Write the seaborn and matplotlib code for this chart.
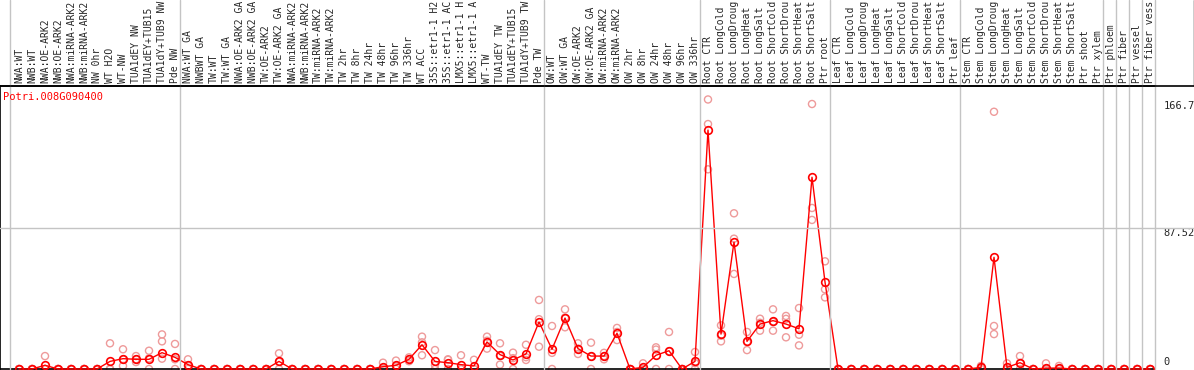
import numpy as np
import pandas as pd
import matplotlib
matplotlib.use("Agg")
import matplotlib.pyplot as plt
import matplotlib.transforms as mtransforms
from matplotlib.lines import Line2D
import seaborn as sns

gene = "Potri.008G090400"

# sample names as they show in the header (long ones are cut there)
labels = [
    "NWA:WT", "NWB:WT", "NWA:OE-ARK2", "NWB:OE-ARK2", "NWA:miRNA-ARK2",
    "NWB:miRNA-ARK2", "NW 0hr", "WT H2O", "WT-NW", "TUA1dEY NW",
    "TUA1dEY+TUB15", "TUA1dY+TUB9 NW", "Pde NW",
    "NWA:WT GA", "NWBWT GA", "TW:WT", "TW:WT GA", "NWA:OE-ARK2 GA",
    "NWB:OE-ARK2 GA", "TW:OE-ARK2", "TW:OE-ARK2 GA", "NWA:miRNA-ARK2",
    "NWB:miRNA-ARK2", "TW:miRNA-ARK2", "TW:miRNA-ARK2", "TW 2hr",
    "TW 8hr", "TW 24hr", "TW 48hr", "TW 96hr", "TW 336hr", "WT ACC",
    "35S::etr1-1 H2", "35S::etr1-1 AC", "LMX5::etr1-1 H",
    "LMX5::etr1-1 A", "WT-TW", "TUA1dEY TW", "TUA1dEY+TUB15",
    "TUA1dY+TUB9 TW", "Pde TW",
    "OW:WT", "OW:WT GA", "OW:OE-ARK2", "OW:OE-ARK2 GA", "OW:miRNA-ARK2",
    "OW:miRNA-ARK2", "OW 2hr", "OW 8hr", "OW 24hr", "OW 48hr", "OW 96hr",
    "OW 336hr",
    "Root CTR", "Root LongCold", "Root LongDroug", "Root LongHeat",
    "Root LongSalt", "Root ShortCold", "Root ShortDrou", "Root ShortHeat",
    "Root ShortSalt", "Ptr root",
    "Leaf CTR", "Leaf LongCold", "Leaf LongDroug", "Leaf LongHeat",
    "Leaf LongSalt", "Leaf ShortCold", "Leaf ShortDrou", "Leaf ShortHeat",
    "Leaf ShortSalt", "Ptr leaf",
    "Stem CTR", "Stem LongCold", "Stem LongDroug", "Stem LongHeat",
    "Stem LongSalt", "Stem ShortCold", "Stem ShortDrou", "Stem ShortHeat",
    "Stem ShortSalt", "Ptr shoot", "Ptr xylem",
    "Ptr phloem", "Ptr fiber", "Ptr vessel", "Ptr fiber vess",
]
group_sizes = [13, 28, 12, 10, 10, 11, 1, 1, 1, 1]

means = [
    0, 0, 2.3, 0, 0, 0, 0, 4.7, 6.4, 6.0, 6.0, 10.1, 7.2,
    2.7, 0, 0, 0, 0, 0, 0, 4.7, 0, 0, 0, 0, 0, 0, 0, 1.4, 2.3, 6.0, 15.0,
    4.7, 3.9, 2.7, 1.9, 16.7, 8.9, 5.6, 9.3, 29.1,
    12.2, 31.5, 12.6, 8.0, 8.0, 22.1, 0, 1.0, 8.5, 11.3, 0, 4.7,
    147.8, 21.6, 78.5, 17.1, 27.8, 29.9, 27.8, 24.9, 118.6, 53.8,
    0, 0, 0, 0, 0, 0, 0, 0, 0, 0,
    0, 1.0, 69.1, 1.0, 3.9, 0, 0.5, 0.6, 0, 0, 0,
    0, 0, 0, 0,
]

rep_a = [
    0, 0, 8.0, 0, 0, 0, 0, 15.9, 12.2, 8.0, 11.3, 21.4, 15.5,
    6.0, 0, 0, 0, 0, 0, 0, 9.7, 0, 0, 0, 0, 0, 0, 0, 3.9, 5.2, 7.2, 20.0,
    11.7, 6.0, 8.5, 5.7, 20.0, 15.9, 10.1, 15.0, 42.7,
    26.6, 36.9, 15.9, 16.3, 10.0, 25.4, 0, 3.5, 13.4, 22.9, 0, 10.5,
    166.7, 27.0, 96.3, 22.9, 31.1, 36.9, 32.8, 37.7, 163.9, 66.6,
    0, 0, 0, 0, 0, 0, 0, 0, 0, 0,
    0, 1.9, 159.1, 3.5, 8.0, 0, 3.5, 1.9, 0, 0, 0,
    0, 0, 0, 0,
]
rep_b = [
    0, 0, 0, 0, 0, 0, 0, 0, 6.0, 6.0, 6.6, 17.1, 6.0,
    2.0, 0, 0, 0, 0, 0, 0, 4.4, 0, 0, 0, 0, 0, 0, 0, 0.3, 1.7, 6.0, 16.5,
    2.4, 5.7, 0, 0, 17.5, 8.1, 6.7, 7.3, 30.8,
    10.0, 31.8, 12.6, 7.7, 8.0, 22.9, 0, 0, 12.0, 11.0, 0, 3.6,
    151.5, 20.6, 80.6, 16.7, 28.6, 29.1, 31.0, 21.2, 99.6, 49.3,
    0, 0, 0, 0, 0, 0, 0, 0, 0, 0,
    0, 1.1, 26.6, 0, 3.7, 0, 0, 0, 0, 0, 0,
    0, 0, 0, 0,
]
rep_c = [
    0, 0, 0, 0, 0, 0, 0, 0, 1.9, 4.3, 0, 6.4, 0,
    0, 0, 0, 0, 0, 0, 0, 0, 0, 0, 0, 0, 0, 0, 0, 0, 0, 4.8, 8.5,
    0, 0, 0, 0, 12.6, 2.7, 0, 5.6, 13.8,
    0, 25.8, 9.3, 0, 6.0, 17.9, 0, 0, 0, 0, 0, 0,
    123.5, 17.1, 58.8, 11.7, 23.7, 23.7, 19.6, 14.6, 92.2, 44.3,
    0, 0, 0, 0, 0, 0, 0, 0, 0, 0,
    0, 0, 21.6, 0, 0, 0, 0, 0, 0, 0, 0,
    0, 0, 0, 0,
]

n = len(labels)
df = pd.DataFrame({"pos": np.arange(n), "sample": labels, "mean": means})
reps = pd.DataFrame({"pos": np.arange(n), "a": rep_a, "b": rep_b, "c": rep_c})
reps = reps.melt(id_vars="pos", value_name="value")

sns.set_style("white")
plt.rcParams["font.family"] = ["DejaVu Sans Mono"]
plt.rcParams["font.size"] = 7.5

W, H = 1194, 370
fig = plt.figure(figsize=(W / 100, H / 100), dpi=100)
# plot box in pixels: x 0..1155, y 86..369 (from top)
ax = fig.add_axes([0, 1 / H, 1155 / W, 283 / H])

grey = "#c4c4c4"
top_val = max(rep_a + rep_b + rep_c)
ymax = top_val * 1.05

# replicates
sns.scatterplot(data=reps, x="pos", y="value", ax=ax, s=26, zorder=2,
                legend=False)
coll = ax.collections[-1]
coll.set_facecolor("none")
coll.set_edgecolor("#ee9a9a")
coll.set_linewidth(1.0)
coll.set_clip_on(False)

# mean line
sns.lineplot(data=df, x="pos", y="mean", ax=ax, color="red", linewidth=1,
             marker="o", markersize=5.5, markerfacecolor="none",
             markeredgecolor="red", markeredgewidth=1.2, zorder=3)
for ln in ax.lines:
    ln.set_clip_on(False)

ax.set_xlim(-19 / 13, (1155 - 19) / 13)
ax.set_ylim(0, ymax)
ax.set_xlabel("")
ax.set_ylabel("")
ax.set_yticks([])

# sample labels across the top
ax.xaxis.tick_top()
ax.set_xticks(np.arange(n))
ax.set_xticklabels(labels, rotation=90, fontsize=7.0)
ax.tick_params(axis="x", length=0, pad=2.2)

for side in ["top", "bottom", "left"]:
    ax.spines[side].set_color("black")
    ax.spines[side].set_linewidth(1.2)
ax.spines["right"].set_visible(False)

# group separators running through the label area
trans_v = mtransforms.blended_transform_factory(ax.transData, fig.transFigure)
ends = np.cumsum(group_sizes) - 1
seps = [-9 / 13] + list(ends + 5 / 13)
for s in seps:
    fig.add_artist(Line2D([s, s], [1 / H, 1], transform=trans_v, color=grey,
                          linewidth=1, zorder=1))

# half-scale grid line
trans_h = mtransforms.blended_transform_factory(fig.transFigure, ax.transData)
fig.add_artist(Line2D([0, 1], [ymax / 2, ymax / 2], transform=trans_h,
                      color=grey, linewidth=1, zorder=1))

# frame of the label box
fig.add_artist(Line2D([0, 1], [(H - 86) / H] * 2, transform=fig.transFigure,
                      color="black", linewidth=1.2))
fig.add_artist(Line2D([1193.5 / W] * 2, [(H - 86) / H, 1],
                      transform=fig.transFigure, color="black", linewidth=1))

# value labels on the right
ax.annotate(f"{top_val:.1f}", xy=(1, top_val), xycoords=("axes fraction", "data"),
            xytext=(6, -4.7), textcoords="offset points", va="center",
            fontsize=7.5, annotation_clip=False)
ax.annotate(f"{ymax / 2:.2f}", xy=(1, ymax / 2), xycoords=("axes fraction", "data"),
            xytext=(6, -4.0), textcoords="offset points", va="center",
            fontsize=7.5, annotation_clip=False)
ax.annotate("0", xy=(1, 0), xycoords=("axes fraction", "data"),
            xytext=(6, 5.0), textcoords="offset points", va="center",
            fontsize=7.5, annotation_clip=False)

fig.text(3 / W, (H - 97) / H, gene, color="red", va="center", fontsize=7.5)

fig.savefig("out.png", dpi=100)
